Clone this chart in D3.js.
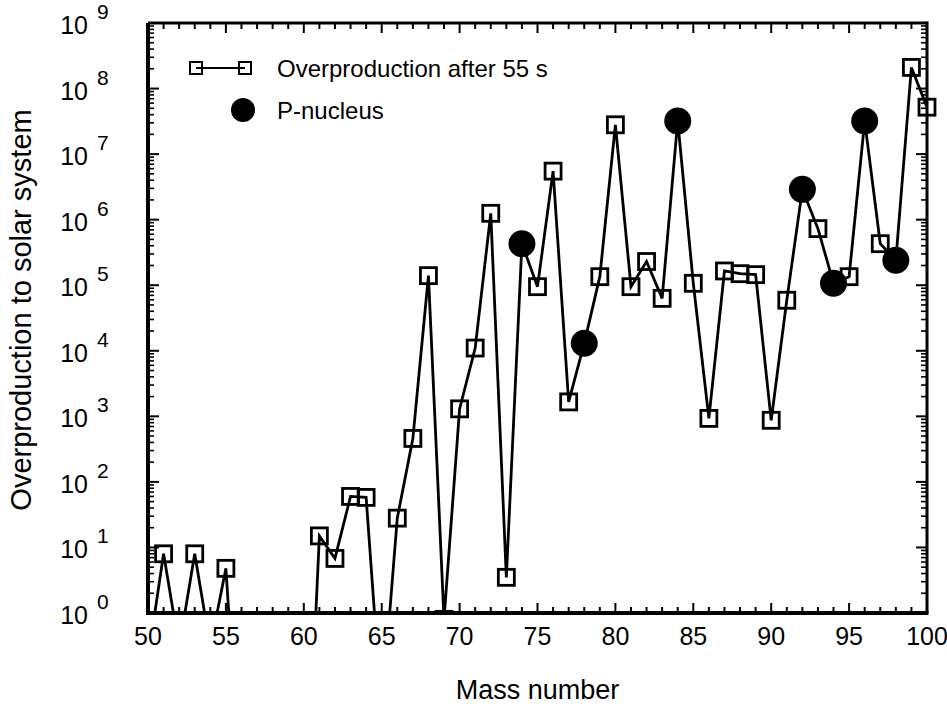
<!DOCTYPE html>
<html>
<head>
<meta charset="utf-8">
<script src="https://cdn.jsdelivr.net/npm/d3@7"></script>
<style>
  html, body { margin: 0; padding: 0; background: #fff; }
  svg { display: block; }
  text { font-family: "Liberation Sans", Arial, sans-serif; fill: #000; }
</style>
</head>
<body>
<svg id="chart" width="947" height="711"></svg>
<script>
// ---- data ----
const masses = [50,51,52,53,54,55,56,57,58,59,60,61,62,63,64,65,66,67,68,69,70,71,72,73,74,75,76,77,78,79,80,81,82,83,84,85,86,87,88,89,90,91,92,93,94,95,96,97,98,99,100];
const overproduction = [0.2, 8, 0.3, 8, 0.3, 4.8, 0.001, 0.001, 0.001, 0.001, 0.0001,
  15, 6.8, 60, 58, 0.03, 28, 460, 1.4e5, 0.8, 1300,
  1.1e4, 1.25e6, 3.5, 4.3e5, 9.5e4, 5.5e6, 1660, 1.3e4, 1.35e5, 2.8e7,
  9.5e4, 2.3e5, 6.3e4, 3.2e7, 1.07e5, 930, 1.65e5, 1.5e5, 1.45e5, 870,
  5.9e4, 2.9e6, 7.3e5, 1.07e5, 1.35e5, 3.2e7, 4.3e5, 2.4e5, 2.1e8, 5.2e7];
const pNuclei = [74, 78, 84, 92, 94, 96, 98];
const xTicks = [50, 55, 60, 65, 70, 75, 80, 85, 90, 95, 100];
const yExponents = [0,1,2,3,4,5,6,7,8,9];
const legendLabels = ["Overproduction after 55 s", "P-nucleus"];
const xTitle = "Mass number";
const yTitle = "Overproduction to solar system";

// ---- layout ----
const L = 148, R = 927, T = 23, B = 613;
const svg = d3.select("#chart");
const x = d3.scaleLinear().domain([50, 100]).range([L, R]);
const y = d3.scaleLog().domain([1, 1e9]).range([B, T]);

const data = masses.map((m, i) => ({ m, v: overproduction[i], p: pNuclei.includes(m) }));

// clip
svg.append("defs").append("clipPath").attr("id", "clip")
  .append("rect").attr("x", L).attr("y", 0).attr("width", 947 - L).attr("height", B - 0);

const plot = svg.append("g").attr("clip-path", "url(#clip)");

const line = d3.line().x(d => x(d.m)).y(d => y(d.v));
plot.append("path").datum(data).attr("d", line)
  .attr("fill", "none").attr("stroke", "#000").attr("stroke-width", 2.8).attr("stroke-linejoin", "miter");

const sq = 16;
plot.selectAll("rect.sq").data(data.filter(d => !d.p)).join("rect")
  .attr("class", "sq")
  .attr("x", d => x(d.m) - sq / 2).attr("y", d => y(d.v) - sq / 2)
  .attr("width", sq).attr("height", sq)
  .attr("fill", "none").attr("stroke", "#000").attr("stroke-width", 2.8);

plot.selectAll("circle.pn").data(data.filter(d => d.p)).join("circle")
  .attr("class", "pn")
  .attr("cx", d => x(d.m)).attr("cy", d => y(d.v)).attr("r", 13.5)
  .attr("fill", "#000");

// ---- axes (ticks inward) ----
const axG = svg.append("g");
const minorX = d3.range(50, 101);
function tickLine(x1, y1, x2, y2, w) {
  axG.append("line").attr("x1", x1).attr("y1", y1).attr("x2", x2).attr("y2", y2)
    .attr("stroke", "#000").attr("stroke-width", w);
}
minorX.forEach(m => {
  const major = xTicks.includes(m);
  const len = major ? 10 : 6;
  tickLine(x(m), B, x(m), B - len, 2);
  tickLine(x(m), T, x(m), T + len, 2);
});
yExponents.forEach(e => {
  const v = Math.pow(10, e);
  tickLine(L, y(v), L + 11, y(v), 2);
  tickLine(R, y(v), R - 11, y(v), 2);
  if (e < 9) {
    for (let k = 2; k <= 9; k++) {
      const vv = k * v;
      tickLine(L, y(vv), L + 6, y(vv), 1.6);
      tickLine(R, y(vv), R - 6, y(vv), 1.6);
    }
  }
});
// frame
axG.append("line").attr("x1", L).attr("y1", T).attr("x2", L).attr("y2", B + 1.5).attr("stroke", "#000").attr("stroke-width", 4);
axG.append("line").attr("x1", L - 2).attr("y1", B).attr("x2", R + 1.5).attr("y2", B).attr("stroke", "#000").attr("stroke-width", 4);
axG.append("line").attr("x1", L).attr("y1", T).attr("x2", R).attr("y2", T).attr("stroke", "#000").attr("stroke-width", 3);
axG.append("line").attr("x1", R).attr("y1", T - 1.5).attr("x2", R).attr("y2", B).attr("stroke", "#000").attr("stroke-width", 3);

// x tick labels
svg.append("g").selectAll("text").data(xTicks).join("text")
  .attr("x", d => x(d)).attr("y", 645)
  .attr("text-anchor", "middle").attr("font-size", 25)
  .text(d => d);

// y tick labels
const yl = svg.append("g");
yExponents.forEach(e => {
  const yy = y(Math.pow(10, e));
  yl.append("text").attr("x", 88).attr("y", yy + 11).attr("text-anchor", "end").attr("font-size", 25).text("10");
  yl.append("text").attr("x", 97).attr("y", yy - 4).attr("text-anchor", "start").attr("font-size", 21).text(e);
});

// titles
svg.append("text").attr("x", (L + R) / 2).attr("y", 699).attr("text-anchor", "middle")
  .attr("font-size", 27).text(xTitle);
svg.append("text").attr("transform", "translate(31,310) rotate(-90)")
  .attr("text-anchor", "middle").attr("font-size", 29).text(yTitle);

// legend
const lg = svg.append("g");
lg.append("line").attr("x1", 196).attr("y1", 68).attr("x2", 245).attr("y2", 68).attr("stroke", "#000").attr("stroke-width", 2);
[196, 245].forEach(cx => {
  lg.append("rect").attr("x", cx - 6).attr("y", 62).attr("width", 12).attr("height", 12)
    .attr("fill", "none").attr("stroke", "#000").attr("stroke-width", 2);
});
lg.append("circle").attr("cx", 243).attr("cy", 110).attr("r", 12).attr("fill", "#000");
lg.append("text").attr("x", 277).attr("y", 77).attr("font-size", 24).text(legendLabels[0]);
lg.append("text").attr("x", 277).attr("y", 119).attr("font-size", 24).text(legendLabels[1]);
</script>
</body>
</html>
